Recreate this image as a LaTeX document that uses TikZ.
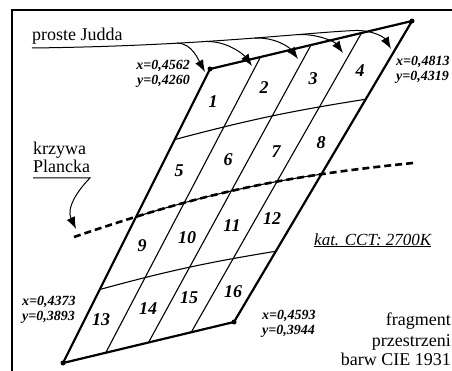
\documentclass[tikz,border=0pt]{standalone}
\usepackage{fontspec}
\setmainfont{Liberation Serif}
\usetikzlibrary{calc,arrows.meta}
\tikzset{
  edge/.style={line width=2.2pt, line join=round},
  gridline/.style={line width=1.1pt},
  judd/.style={line width=1pt},
  tip/.style={-{Latex[length=12pt,width=9pt]}},
  planck/.style={line width=2.6pt, dash pattern=on 7pt off 4pt},
  corner/.style={circle, fill, inner sep=0pt, minimum size=5pt},
  num/.style={font=\fontsize{18}{18}\selectfont\bfseries\itshape, inner sep=0pt},
  coordlbl/.style={font=\fontsize{14}{14}\selectfont\bfseries\itshape, inner sep=0pt},
  lbl/.style={font=\fontsize{18}{18}\selectfont, inner sep=0pt},
}
\begin{document}
\begin{tikzpicture}[x=1pt,y=-1pt]
\useasboundingbox (0,0) rectangle (452,371);
\clip (0,0) rectangle (452,371);
% frame
\draw[line width=2.5pt] (12,373) -- (12,10) -- (454,10);
% corners
\coordinate (A) at (210,69);
\coordinate (B) at (412,21);
\coordinate (C) at (234,322);
\coordinate (D) at (63,363);
% column lines (Judd lines)
\foreach \t [count=\i] in {0.25,0.5,0.75} {
  \coordinate (ct\i) at ($(A)!\t!(B)$);
  \coordinate (cb\i) at ($(D)!\t!(C)$);
  \draw[gridline] (ct\i) -- (cb\i);
}
% row lines
\coordinate (rl1) at ($(A)!0.24!(D)$);
\coordinate (rr1) at ($(B)!0.26!(C)$);
\coordinate (rl3) at ($(A)!0.75!(D)$);
\coordinate (rr3) at ($(B)!0.765!(C)$);
\draw[gridline] (rl1) to[bend left=3] (rr1);
\draw[gridline] (rl3) to[bend left=3] (rr3);
% Planck curve
\coordinate (P1) at (74,237);
\coordinate (P2) at (413,163);
\begin{scope}
  \clip (A) -- (B) -- (C) -- (D) -- cycle;
  \draw[gridline] (P1) to[bend left=6.5] (P2);
\end{scope}
\draw[planck] (P1) to[bend left=6.5] (P2);
% outline
\draw[edge] (A) -- (B) -- (C) -- (D) -- cycle;
\node[corner] (dA) at (A) {};
\node[corner] (dB) at (B) {};
\node[corner] (dC) at (C) {};
\node[corner] (dD) at (D) {};
% Judd arrows
\coordinate (J0) at (32,48);
\coordinate (J5) at (355,30.5);
\coordinate (T0) at (205,72);
\coordinate (T1) at (252,66);
\coordinate (T2) at (298,59);
\coordinate (T3) at (343,53);
\coordinate (T4) at (391,49);
\draw[judd] (J0) .. controls (200,46) and (300,33) .. (J5)
  coordinate[pos=0.33] (b1) coordinate[pos=0.41] (b2)
  coordinate[pos=0.56] (b3) coordinate[pos=0.72] (b4);
\draw[judd,tip] (b1) .. controls ($(b1)+(15,-0.5)$) and ($(T0)+(-6,-11)$) .. (T0);
\draw[judd,tip] (b2) .. controls ($(b2)+(22,-0.5)$) and ($(T1)+(-8,-11)$) .. (T1);
\draw[judd,tip] (b3) .. controls ($(b3)+(22,-1)$) and ($(T2)+(-8,-11)$) .. (T2);
\draw[judd,tip] (b4) .. controls ($(b4)+(20,-1)$) and ($(T3)+(-8,-11)$) .. (T3);
\draw[judd,tip] (J5) .. controls ($(J5)+(17,-0.5)$) and ($(T4)+(-7,-12)$) .. (T4);
% texts
\node[lbl, anchor=base west] (judd) at (32,41) {proste Judda};
\node[lbl, anchor=base west] (krz) at (33,155) {krzywa};
\node[lbl, anchor=base west] (pla) at (33,173) {Plancka};
\coordinate (U0) at (33,178);
\coordinate (U1) at (90,178);
\coordinate (PT) at (76,229);
\draw[judd,tip] (U0) -- (U1) .. controls (78,190) and (66,208) .. (PT);
\node[font=\fontsize{17}{17}\selectfont\itshape, inner sep=0pt, anchor=base west] (cct) at (314,245) {\underline{kat. CCT: 2700K}};
\node[lbl, anchor=base east] (fr1) at (451,325) {fragment};
\node[lbl, anchor=base east] (fr2) at (451,346) {przestrzeni};
\node[lbl, anchor=base east] (fr3) at (451,365) {barw CIE 1931};
% corner coordinates
\node[coordlbl, anchor=base east] (ax) at (190,70) {x=0,4562};
\node[coordlbl, anchor=base east] (ay) at (190,85) {y=0,4260};
\node[coordlbl, anchor=base west] (bx) at (396,66) {x=0,4813};
\node[coordlbl, anchor=base west] (by) at (396,81) {y=0,4319};
\node[coordlbl, anchor=base west] (dx) at (22,305) {x=0,4373};
\node[coordlbl, anchor=base west] (dy) at (22,320) {y=0,3893};
\node[coordlbl, anchor=base west] (cx) at (262,319) {x=0,4593};
\node[coordlbl, anchor=base west] (cy) at (262,334) {y=0,3944};
% cell numbers
\foreach \n/\x/\y in {1/213/102, 2/264/88, 3/313/79, 4/360/71,
                      5/179/171, 6/228/160, 7/276/152, 8/321/143,
                      9/142/246, 10/187/238, 11/232/226, 12/272/219,
                      13/101/320, 14/148/309, 15/189/298, 16/233/292}
  \node[num] (n\n) at (\x,\y) {\n};
\end{tikzpicture}
\end{document}
